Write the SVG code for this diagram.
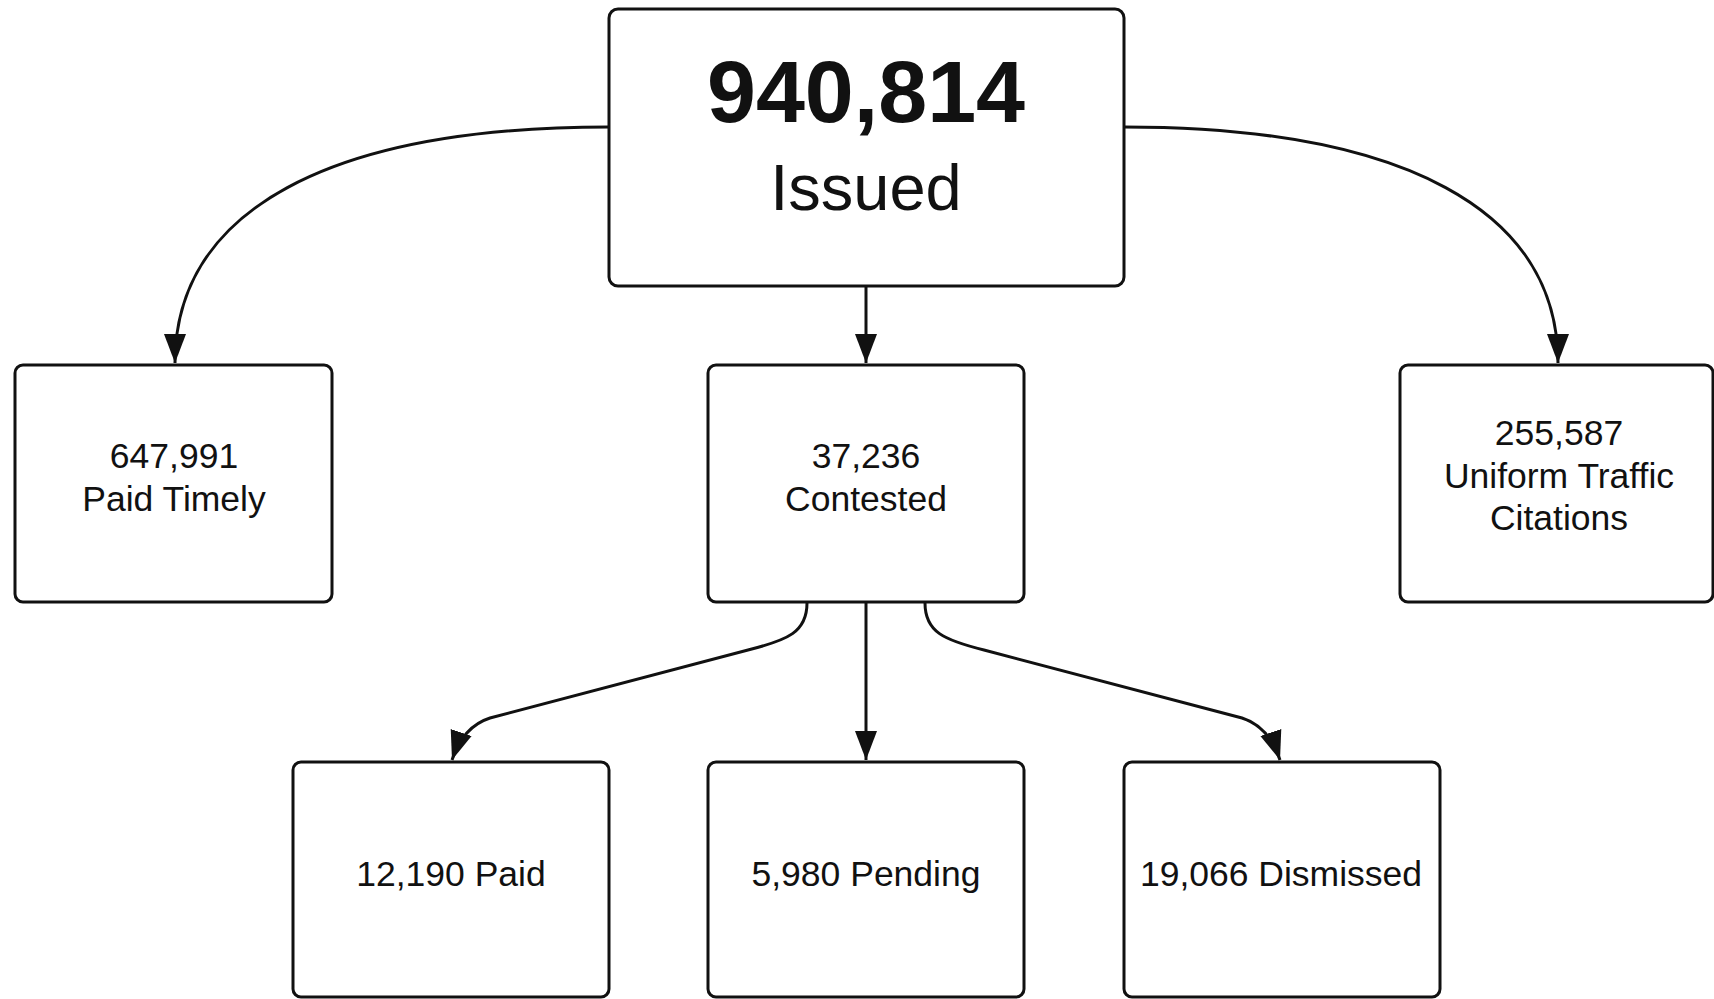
<svg xmlns="http://www.w3.org/2000/svg" width="1714" height="999" viewBox="0 0 1714 999">
<style>
.box{fill:#fff;stroke:#111;stroke-width:3}
.conn{fill:none;stroke:#111;stroke-width:3}
text{font-family:"Liberation Sans",Arial,sans-serif;fill:#111;text-anchor:middle}
.t{font-size:35.5px}
</style>
<defs>
<marker id="arr" markerUnits="userSpaceOnUse" markerWidth="30" markerHeight="24" viewBox="0 0 30 24" refX="29" refY="12" orient="auto">
<path d="M0,1 L29,12 L0,23 z" fill="#111"/>
</marker>
</defs>
<rect width="1714" height="999" fill="#fff"/>
<g id="connectors">
<path class="conn" d="M609,127 C330,127 175,210 175,363" marker-end="url(#arr)"/>
<path class="conn" d="M1124,127 C1403,127 1558,210 1558,363" marker-end="url(#arr)"/>
<path class="conn" d="M866,286 L866,363" marker-end="url(#arr)"/>
<path class="conn" d="M807,603 C807,632 788,640 748,650 L490,718 C468,725 458,742 452,760" marker-end="url(#arr)"/>
<path class="conn" d="M866,603 L866,760" marker-end="url(#arr)"/>
<path class="conn" d="M925,603 C925,632 944,640 984,650 L1242,718 C1264,725 1274,742 1280,760" marker-end="url(#arr)"/>
</g>
<g id="issued">
<rect class="box" x="609" y="9" width="515" height="277" rx="9"/>
<text x="866" y="122" font-size="88" font-weight="bold">940,814</text>
<text x="866" y="210" font-size="65">Issued</text>
</g>
<g id="paid-timely">
<rect class="box" x="15" y="365" width="317" height="237" rx="8"/>
<text class="t" x="174" y="468">647,991</text>
<text class="t" x="174" y="511">Paid Timely</text>
</g>
<g id="contested">
<rect class="box" x="708" y="365" width="316" height="237" rx="8"/>
<text class="t" x="866" y="468">37,236</text>
<text class="t" x="866" y="511">Contested</text>
</g>
<g id="uniform">
<rect class="box" x="1400" y="365" width="313" height="237" rx="8"/>
<text class="t" x="1559" y="445">255,587</text>
<text class="t" x="1559" y="488">Uniform Traffic</text>
<text class="t" x="1559" y="530">Citations</text>
</g>
<g id="paid">
<rect class="box" x="293" y="762" width="316" height="235" rx="8"/>
<text class="t" x="451" y="886">12,190 Paid</text>
</g>
<g id="pending">
<rect class="box" x="708" y="762" width="316" height="235" rx="8"/>
<text class="t" x="866" y="886">5,980 Pending</text>
</g>
<g id="dismissed">
<rect class="box" x="1124" y="762" width="316" height="235" rx="8"/>
<text class="t" x="1281" y="886">19,066 Dismissed</text>
</g>
</svg>
